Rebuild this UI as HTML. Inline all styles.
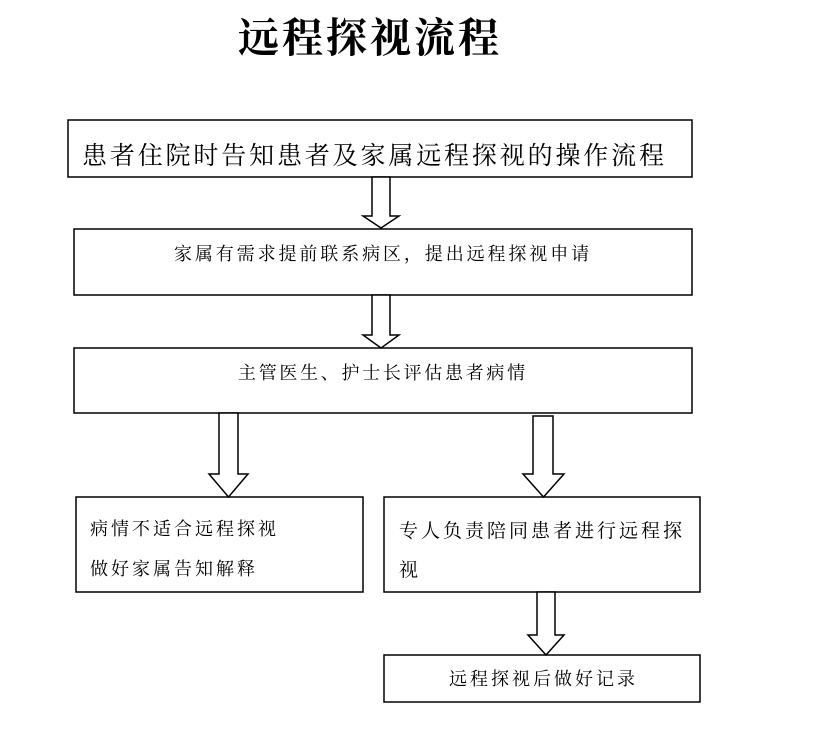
<!DOCTYPE html>
<html><head><meta charset="utf-8"><style>
html,body{margin:0;padding:0;background:#fff;}
svg{display:block;}
text{font-family:"Liberation Serif","Noto Serif CJK SC",serif;fill:#000;}
</style></head><body>
<svg width="823" height="733" viewBox="0 0 823 733" xmlns="http://www.w3.org/2000/svg">
<text x="238" y="52" font-size="41" font-weight="bold" letter-spacing="3">远程探视流程</text>
<g fill="#fff" stroke="#000" stroke-width="1.5">
<rect x="68" y="120" width="624" height="57"/>
<rect x="74" y="229" width="618" height="66"/>
<rect x="74" y="348" width="618" height="65"/>
<rect x="76" y="497" width="287" height="95"/>
<rect x="384" y="497" width="316" height="95"/>
<rect x="384" y="655" width="316" height="47"/>
<polygon points="372,177 390,177 390,216 399,216 381,228 363,216 372,216"/>
<polygon points="372,295 390,295 390,335 399,335 381,348 363,335 372,335"/>
<polygon points="219,413 238,413 238,474 248,474 228.5,497 209,474 219,474"/>
<polygon points="533,416 553,416 553,474 564,474 543.5,497 523,474 533,474"/>
<polygon points="537,592 555,592 555,635 564,635 546,655 528,635 537,635"/>
</g>
<text x="82" y="164" font-size="25" letter-spacing="2.85">患者住院时告知患者及家属远程探视的操作流程</text>
<text x="174" y="260" font-size="18" letter-spacing="2.9">家属有需求提前联系病区，提出远程探视申请</text>
<text x="238" y="379" font-size="18" letter-spacing="2.7">主管医生、护士长评估患者病情</text>
<text x="90" y="535" font-size="18" letter-spacing="3">病情不适合远程探视</text>
<text x="90" y="575" font-size="18" letter-spacing="3">做好家属告知解释</text>
<text x="399" y="537" font-size="19" letter-spacing="3">专人负责陪同患者进行远程探</text>
<text x="399" y="576" font-size="19" letter-spacing="3">视</text>
<text x="449" y="685" font-size="18" letter-spacing="3">远程探视后做好记录</text>
</svg>
</body></html>
